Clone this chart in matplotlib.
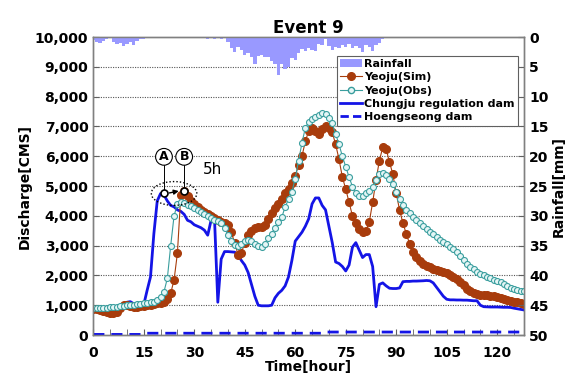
import matplotlib
matplotlib.use("Agg")
import matplotlib.pyplot as plt
import numpy as np
from matplotlib.patches import Patch, Ellipse
from matplotlib.lines import Line2D
from matplotlib.ticker import MultipleLocator, FuncFormatter

hours = list(range(0, 129))

yeoju_sim = [880, 870, 850, 820, 780, 750, 740, 760, 900, 1000,
             1000, 960, 940, 950, 960, 980, 1000, 1020, 1040, 1060,
             1080, 1110, 1200, 1400, 1850, 2750, 4700, 4850, 4650, 4500,
             4400, 4300, 4200, 4130, 4060, 4000, 3930, 3870, 3800, 3760,
             3700, 3450, 3100, 2700, 2750, 3100, 3350, 3500, 3600, 3630,
             3640, 3700, 3900, 4100, 4250, 4400, 4550, 4750, 4900, 5100,
             5350, 5700, 6000, 6500, 6850, 6950, 6850, 6750, 6900, 7000,
             6950, 6800, 6400, 5900, 5300, 4900, 4450, 4000, 3750, 3550,
             3450, 3500, 3800, 4450, 5200, 5850, 6300, 6250, 5800, 5400,
             4750, 4200, 3750, 3400, 3050, 2800, 2620, 2500, 2400, 2330,
             2280, 2230, 2180, 2150, 2120, 2080, 2020, 1950, 1880, 1780,
             1670, 1560, 1480, 1420, 1380, 1350, 1340, 1330, 1320, 1300,
             1280, 1250, 1210, 1180, 1150, 1120, 1100, 1070, 1050]

yeoju_obs = [900, 900, 900, 910, 920, 930, 940, 950, 960, 980,
             1000, 1010, 1020, 1030, 1040, 1060, 1080, 1100, 1120, 1180,
             1280, 1450, 1900, 3000, 4000, 4400, 4450, 4420, 4380, 4330,
             4270, 4200, 4130, 4060, 3990, 3930, 3870, 3820, 3760, 3600,
             3350, 3150, 3030, 3000, 3060, 3150, 3190, 3150, 3050, 2980,
             2960, 3050, 3250, 3400, 3600, 3800, 3950, 4300, 4550, 4800,
             5250, 5850, 6450, 6950, 7150, 7250, 7330, 7400, 7440, 7430,
             7300, 7100, 6750, 6400, 6000, 5650, 5300, 4980, 4750, 4650,
             4680, 4750, 4850, 4980, 5200, 5400, 5430, 5370, 5250, 5080,
             4800, 4550, 4350, 4200, 4080, 3960, 3860, 3760, 3650, 3550,
             3460, 3380, 3290, 3200, 3120, 3040, 2960, 2880, 2780, 2660,
             2530, 2400, 2290, 2200, 2120, 2050, 2000, 1960, 1910, 1860,
             1820, 1770, 1700, 1640, 1590, 1550, 1520, 1490, 1470]

chungju = [800, 800, 800, 810, 820, 830, 840, 850, 860, 950,
           1100, 1120, 1050, 1000, 1000, 1020, 1500, 1950, 3400, 4500,
           4750, 4700, 4500, 4350, 4300, 4200, 4150, 4050, 3850, 3800,
           3700, 3650, 3600, 3520, 3350, 3850, 3950, 1100, 2550, 2800,
           2800, 2790, 2780, 2700, 2500, 2350, 2100, 1700, 1300, 1000,
           980, 980, 980, 1000, 1250, 1400, 1500, 1650, 1950, 2500,
           3150, 3300, 3450, 3650, 3900, 4400, 4600, 4600, 4350, 4200,
           3650, 3100, 2450, 2400, 2300, 2150, 2350, 2950, 3100, 2850,
           2600, 2700, 2700, 2300, 950, 1700, 1750, 1650, 1570, 1560,
           1560, 1580, 1790, 1800, 1800, 1810, 1810, 1815, 1820, 1830,
           1820, 1750, 1600, 1450, 1300, 1200, 1180, 1180, 1175, 1175,
           1170, 1170, 1160, 1150, 1150, 1000, 950, 945, 940, 940,
           940, 935, 930, 930, 925, 900, 880, 860, 840]

hoengseong = [20] * 16 + [60] * 53 + [100] * 60

rainfall = [0.5, 0.8, 1.0, 0.6, 0.3, 0.2, 0.8, 1.2, 1.0, 1.5,
            1.1, 0.9, 1.3, 0.6, 0.3, 0.3, 0.2, 0.1, 0.1, 0.1,
            0.1, 0.1, 0.1, 0.0, 0.1, 0.1, 0.1, 0.0, 0.0, 0.1,
            0.1, 0.1, 0.0, 0.0, 0.3, 0.2, 0.3, 0.2, 0.3, 0.2,
            0.8, 1.8, 2.5, 1.7, 2.2, 3.0, 2.6, 3.3, 4.5, 3.2,
            3.0, 3.4, 3.3, 4.0, 4.6, 6.4, 4.5, 5.3, 5.0, 3.5,
            3.8, 2.6, 2.0, 2.4, 1.8, 2.1, 2.4, 1.2, 1.4, 0.3,
            1.5, 2.2, 1.6, 1.9, 1.3, 1.6, 1.2, 1.8, 1.5, 1.9,
            2.5, 1.4, 1.6, 2.3, 1.4, 1.0, 0.3] + [0.0] * 42

x_labels = [0, 15, 30, 45, 60, 75, 90, 105, 120]

# annotation points
pt_a = (21, 4750)
pt_b = (27, 4850)

SIM_C = "#A83C0C"
OBS_C = "#3A9E9E"
BLUE = "#1414E6"
RAIN_C = "#9999FF"

fig = plt.figure(figsize=(5.83, 3.82), dpi=100)
ax = fig.add_axes([0.160, 0.123, 0.739, 0.780])
ax2 = ax.twinx()

ax.plot(hours, hoengseong, color=BLUE, lw=2, ls=(0, (4, 2.5)), zorder=3)
ax.plot(hours, chungju, color=BLUE, lw=2, zorder=4)
ax.plot(hours, yeoju_sim, color=SIM_C, lw=0.8, marker='o', ms=5.5,
        mfc=SIM_C, mec=SIM_C, zorder=5)
ax.plot(hours, yeoju_obs, color=OBS_C, lw=0.8, marker='o', ms=4.3,
        mfc='#E6F6F6', mec=OBS_C, mew=0.8, zorder=6)

ax2.bar(hours, rainfall, width=1.0, color=RAIN_C, edgecolor='none', align='center')
ax2.set_ylim(50, 0)

ax.set_xlim(0, 128)
ax.set_ylim(0, 10000)
ax.yaxis.set_major_locator(MultipleLocator(1000))
ax.yaxis.set_major_formatter(FuncFormatter(lambda v, p: f"{int(v):,}"))
ax.set_xticks(x_labels)
ax.xaxis.set_minor_locator(MultipleLocator(5))
ax2.yaxis.set_major_locator(MultipleLocator(5))

for yv in range(1000, 10000, 1000):
    ax.axhline(yv, color='#555555', lw=0.8, ls=(0, (1, 1.2)), zorder=1)

for a in (ax, ax2):
    for s in a.spines.values():
        s.set_color('#808080')
        s.set_linewidth(1.0)
ax.tick_params(axis='both', which='both', direction='in', length=4, color='#606060')
ax2.tick_params(axis='y', direction='in', length=4, color='#606060')
for lab in ax.get_xticklabels() + ax.get_yticklabels() + ax2.get_yticklabels():
    lab.set_fontweight('bold')
    lab.set_fontsize(10)
ax.tick_params(axis='x', pad=8)

ax.set_xlabel("Time[hour]", fontweight='bold', fontsize=10, labelpad=0)
ax.set_ylabel("Discharge[CMS]", fontweight='bold', fontsize=10, labelpad=2)
ax2.set_ylabel("Rainfall[mm]", fontweight='bold', fontsize=10, labelpad=2)
ax.set_title("Event 9", fontweight='bold', fontsize=12, pad=3)

# A / B annotation
ax.add_patch(Ellipse((24, 4750), 13.5, 800, fill=False, ls=(0, (1, 1.5)),
                     lw=1.0, color='black', zorder=8))
for (px, py), lab in ((pt_a, 'A'), (pt_b, 'B')):
    ax.plot([px, px], [py, 5950], color='black', lw=0.7, zorder=8)
    ax.plot(px, py, marker='o', ms=5, mfc='white', mec='black', mew=1.2, zorder=9)
    ax.text(px, 5980, lab, ha='center', va='center', fontsize=9, fontweight='bold',
            bbox=dict(boxstyle='circle,pad=0.15', fc='white', ec='black', lw=0.8),
            zorder=10)
ax.annotate('', xy=(pt_b[0] - 0.8, pt_b[1]), xytext=(pt_a[0] + 0.8, pt_a[1]),
            arrowprops=dict(arrowstyle='-|>', color='black', lw=1.0,
                            mutation_scale=7), zorder=9)
ax.text(35.5, 5570, "5h", fontsize=11, ha='center', va='center')

handles = [Patch(facecolor=RAIN_C, edgecolor='none'),
           Line2D([], [], color=SIM_C, lw=0.8, marker='o', ms=5.5, mfc=SIM_C, mec=SIM_C),
           Line2D([], [], color=OBS_C, lw=0.8, marker='o', ms=4.5, mfc='#E6F6F6', mec=OBS_C),
           Line2D([], [], color=BLUE, lw=2),
           Line2D([], [], color=BLUE, lw=2, ls=(0, (3, 1.5)))]
labels = ["Rainfall", "Yeoju(Sim)", "Yeoju(Obs)", "Chungju regulation dam", "Hoengseong dam"]
leg = ax2.legend(handles, labels, loc='upper right', bbox_to_anchor=(0.99, 0.945),
                 frameon=True, fancybox=False, edgecolor='#606060', framealpha=1,
                 prop={'weight': 'bold', 'size': 8}, handlelength=2.0, handletextpad=0.15,
                 labelspacing=0.3, borderpad=0.3, borderaxespad=0.2)
leg.get_frame().set_linewidth(0.8)
leg.set_zorder(20)

fig.savefig("out.png", dpi=100)
